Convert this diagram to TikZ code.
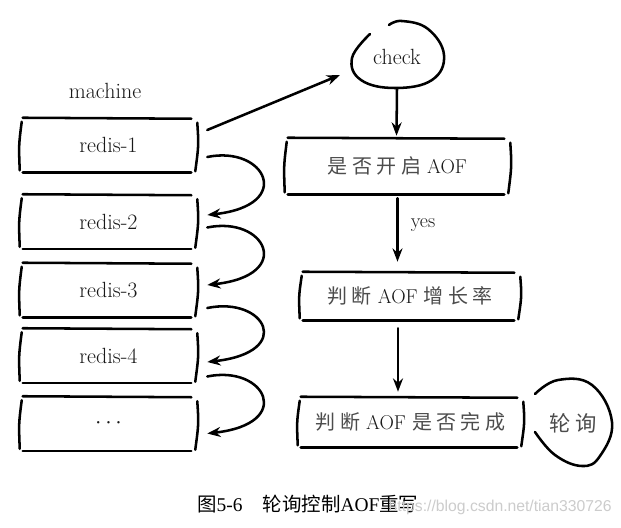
\documentclass[tikz,border=0pt]{standalone}
\usepackage{fontspec}
\newfontfamily\cjk{Noto Sans CJK SC}
\newfontfamily\cjksp[LetterSpace=22]{Noto Sans CJK SC}
\newfontfamily\wmfont{Liberation Sans}
\newfontfamily\capserif{Liberation Serif}
\usetikzlibrary{arrows.meta,calc}
\tikzset{
  sk/.style={line width=1.9pt,line cap=round,black},
  arr/.style={sk,-{Stealth[length=10pt,width=7.5pt]}},
  lbl/.style={font=\fontsize{16.5}{19}\selectfont,text=black!90,inner sep=0pt},
  cjklbl/.style={font=\fontsize{15}{18}\selectfont,text=black!70,inner sep=0pt},
  redisbox/.style={lbl,minimum width=132.75pt,minimum height=40.5pt},
  flowbox/.style={cjklbl,minimum height=38pt},
}
\newcommand\sketchbox[1]{%
  \draw[sk] ($(#1.north west)+(3,0)$) -- ($(#1.north east)+(-6,1)$);
  \draw[sk] ($(#1.south west)+(3,0)$) -- ($(#1.south east)+(-6,0)$);
  \draw[sk] ($(#1.north west)+(2,4)$) .. controls ($(#1.west)+(-1,0)$) .. ($(#1.south west)+(0,-2)$);
  \draw[sk] ($(#1.north east)+(0,5)$) .. controls ($(#1.east)+(1.5,0)$) .. ($(#1.south east)+(-2,-1)$);
}
\newcommand\lat[1]{{\color{black!90}#1}}
\begin{document}
\begin{tikzpicture}[x=0.75pt,y=-0.75pt]
\useasboundingbox (0,0) rectangle (621,528);
\fill[white] (0,0) rectangle (621,528);

% left column
\node[lbl] (machine) at (105,91) {machine};
\node[redisbox] (r1) at (108.5,145) {redis-1};
\node[redisbox] (r2) at (108.5,221.5) {redis-2};
\node[redisbox] (r3) at (108.5,290) {redis-3};
\node[redisbox] (r4) at (108.5,355.5) {redis-4};
\node[redisbox] (r5) at (108.5,423.5) {$\cdots$};
\foreach \n in {r1,r2,r3,r4,r5} {\sketchbox{\n}}

% right column
\node[lbl,minimum size=46.5pt,circle] (check) at (397,57) {check};
\node[flowbox,minimum width=168.75pt,minimum height=42pt] (b1) at (397.5,166) {{\cjksp 是否开启} \lat{AOF}};
\node[flowbox,minimum width=165pt,minimum height=36pt] (b2) at (410,296) {{\cjksp 判断} \lat{AOF} {\cjksp 增长率}};
\node[flowbox,minimum width=168.75pt,minimum height=37.5pt] (b3) at (410.5,422) {{\cjksp 判断} \lat{AOF} {\cjksp 是否完成}};
\node[cjklbl,font=\fontsize{16}{18}\selectfont] (poll) at (573,423) {\cjksp 轮询};
\sketchbox{b1}
\sketchbox{b2}
\sketchbox{b3}

% loops
\draw[sk] plot[smooth,tension=0.7] coordinates {(370,34) (352,58) (361,80) (395,88) (432,80) (444,55) (428,29) (402,21) (389,25)};
\draw[sk] plot[smooth,tension=0.7] coordinates {(535,394) (558,380) (592,385) (612,422) (600,456) (582,466) (555,455) (535,432)};

% connectors
\draw[arr] ($(r1.east)+(10,-15)$) -- ($(check.center)+(-57,18)$);
\draw[arr] (check.south) -- ($(b1.north)+(-1,-2)$);
\draw[arr] ($(b1.south)+(0,4)$) -- node[lbl,right=9pt,pos=0.42,font=\fontsize{15}{18}\selectfont] (yes) {yes} ($(b2.north -| b1.south)+(0,-10)$);
\draw[arr] ($(b2.south)+(-12,8)$) -- ($(b3.north)+(-12.5,-5)$);

\draw[arr] ($(r1.east)+(10,12)$) .. controls +(58,-12) and +(88,-10) .. ($(r2.east)+(10,-6.5)$);
\draw[arr] ($(r2.east)+(10,6)$) .. controls +(58,-12) and +(88,-10) .. ($(r3.east)+(10,-5)$);
\draw[arr] ($(r3.east)+(10,18)$) .. controls +(58,-12) and +(88,-10) .. ($(r4.east)+(10,6.5)$);
\draw[arr] ($(r4.east)+(10,21)$) .. controls +(58,-12) and +(88,-10) .. ($(r5.east)+(10,10)$);

% caption and watermark
\node[anchor=base west,inner sep=0pt,font=\fontsize{14.6}{16}\selectfont] (cap) at (197,511)
  {{\cjk 图}{\capserif 5-6}\hspace{15pt}{\cjk 轮询控制}{\capserif AOF}{\cjk 重写}};
\node[anchor=base east,inner sep=0pt,text=black!20,font=\wmfont\fontsize{11.8}{13}\selectfont] (wm) at (612,511) {https://blog.csdn.net/tian330726};
\end{tikzpicture}
\end{document}
